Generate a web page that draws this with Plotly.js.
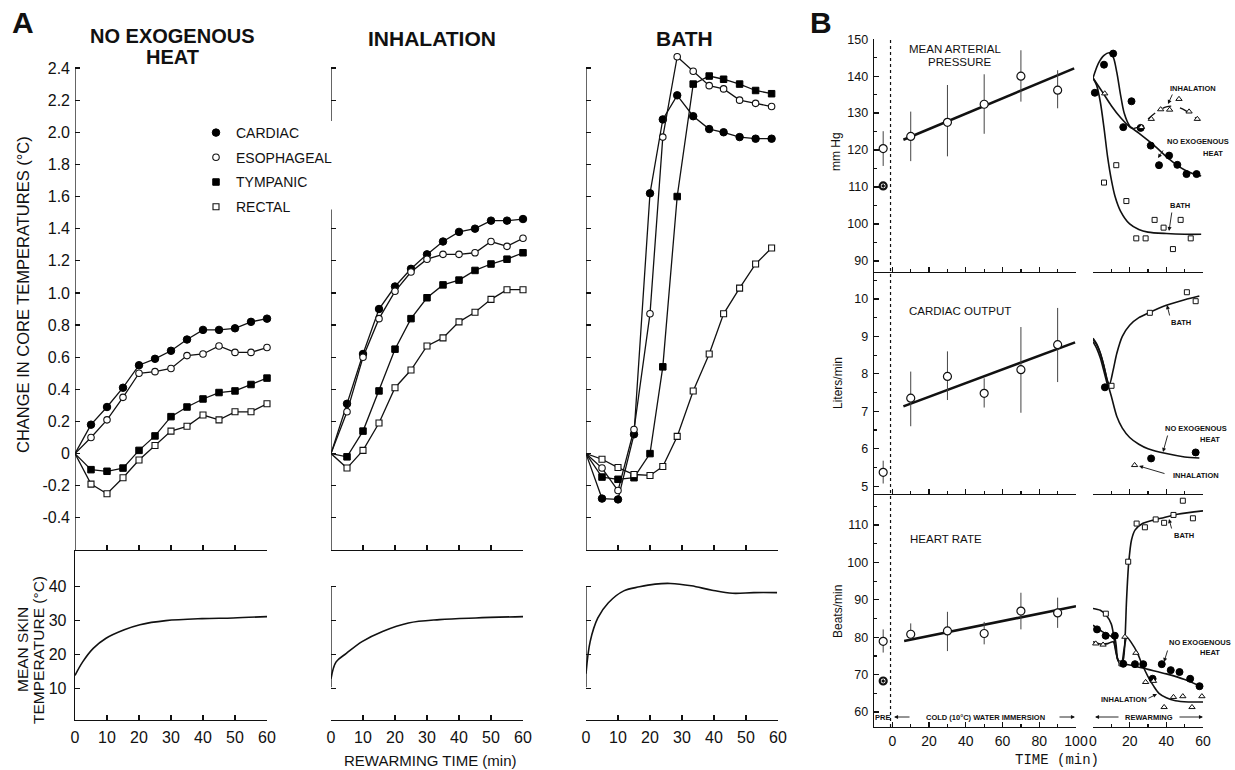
<!DOCTYPE html>
<html><head><meta charset="utf-8">
<script src="https://cdn.plot.ly/plotly-3.0.1.min.js"></script>
<style>html,body{margin:0;padding:0;background:#fff}#chart{width:1235px;height:770px}</style>
</head><body><div id="chart"></div>
<script>
// ---------------- DATA ----------------
// Panel A : change in core temperatures (°C) vs rewarming time (min)
const timeA = [0,5,10,15,20,25,30,35,40,45,50,55,60];
const timeBath = [0,5,10,15,20,24,28.5,33.5,38.5,43,48,53,58];
const noHeatCardiac = [0,0.18,0.29,0.41,0.55,0.59,0.64,0.71,0.77,0.77,0.78,0.82,0.84];
const noHeatEsoph   = [0,0.10,0.21,0.35,0.50,0.51,0.53,0.61,0.62,0.67,0.63,0.63,0.66];
const noHeatTymp    = [0,-0.10,-0.11,-0.09,0.02,0.11,0.23,0.29,0.34,0.38,0.39,0.43,0.47];
const noHeatRectal  = [0,-0.19,-0.25,-0.15,-0.04,0.05,0.14,0.17,0.24,0.21,0.26,0.26,0.31];
const inhalCardiac  = [0,0.31,0.62,0.90,1.04,1.15,1.24,1.32,1.38,1.40,1.45,1.45,1.46];
const inhalEsoph    = [0,0.26,0.60,0.84,1.01,1.13,1.21,1.24,1.24,1.25,1.32,1.29,1.34];
const inhalTymp     = [0,-0.02,0.14,0.39,0.65,0.84,0.97,1.05,1.08,1.14,1.18,1.21,1.25];
const inhalRectal   = [0,-0.09,0.02,0.19,0.41,0.52,0.67,0.72,0.82,0.88,0.96,1.02,1.02];
const bathCardiac   = [0,-0.28,-0.285,0.12,1.62,2.08,2.23,2.10,2.02,2.00,1.97,1.96,1.96];
const bathEsoph     = [0,-0.09,-0.23,0.15,0.87,1.97,2.47,2.38,2.29,2.27,2.20,2.18,2.16];
const bathTymp      = [0,-0.146,-0.16,-0.15,0.0,0.54,1.60,2.30,2.35,2.33,2.30,2.26,2.24];
const bathRectal    = [0,-0.035,-0.087,-0.13,-0.136,-0.08,0.107,0.39,0.62,0.87,1.03,1.18,1.28];
const coreTickVals  = [-0.4,-0.2,0,0.2,0.4,0.6,0.8,1.0,1.2,1.4,1.6,1.8,2.0,2.2,2.4];
const coreTickText  = ['-0.4','-0.2','0','0.2','0.4','0.6','0.8','1.0','1.2','1.4','1.6','1.8','2.0','2.2','2.4'];
const inhalTickVals = [-0.4,-0.2,0,0.2,0.4,0.6,0.8,1.0,1.2,1.4,2.2,2.4];
const seriesNames   = ['CARDIAC','ESOPHAGEAL','TYMPANIC','RECTAL'];
// mean skin temperature (°C)
const skinTimeNoHeat = [0,2.4,5.7,9.7,15.4,20.3,28.4,39.7,49.4,60];
const skinNoHeat     = [13.8,17.8,21.8,24.8,27.3,28.8,30,30.6,30.8,31.2];
const skinTimeInhal  = [0,1.6,4.8,9.7,16.1,24.2,33.9,45.2,60];
const skinInhal      = [12.8,17.8,20.3,23.8,26.8,29.3,30.3,30.8,31.2];
const skinTimeBath   = [0,1.3,3.7,7,11.8,16.7,21.6,26.4,32.9,39.4,45.8,52.4,59.7];
const skinBath       = [14.3,23.8,30.8,35.3,38.8,40,40.8,41,40.3,39,38.1,38.3,38.3];
const skinTickVals   = [10,20,30,40];

// Panel B : cold water immersion (left) and rewarming (right)
const immTime = [10,30,50,70,90];
const preTime = [-5];
const mapImm = [123.7,127.5,132.4,140,136.2];
const mapImmHi = [130.4,137.6,140.5,147,141.6];
const mapImmLo = [117.0,118.3,124.4,133.1,131.3];
const mapPreOpen = [120.4], mapPreOpenHi=[125.1], mapPreOpenLo=[115.7];
const mapPreFilled = [110.3];
const mapFitX = [6,99], mapFitY = [122.8,142.1];
const coImm = [7.35,7.93,7.48,8.11,8.78];
const coImmHi = [8.06,8.6,7.88,9.25,9.76];
const coImmLo = [6.6,7.3,7.1,6.96,7.78];
const coPreOpen = [5.37], coPreOpenHi=[5.68], coPreOpenLo=[5.07];
const coFitX = [6,99.5], coFitY = [7.13,8.84];
const hrImm = [80.8,81.7,81.0,87.0,86.5];
const hrImmHi = [83.7,86.8,84.1,91.9,90.6];
const hrImmLo = [79.6,76.3,78.1,82.1,82.5];
const hrPreOpen = [78.9], hrPreOpenHi=[82.1], hrPreOpenLo=[75.9];
const hrPreFilled = [68.3];
const hrFitX = [6.4,100], hrFitY = [79.0,88.3];

// rewarming – mean arterial pressure
const mapNoHeatPtsX = [1,6,11,16.5,21,26,31.5,36,41.5,46,51,56.5];
const mapNoHeatPtsY = [135.5,143.1,146.1,126.2,133.2,126,121.2,115.9,118.5,116,113.5,113.5];
const mapInhalPtsX = [6.4,26.4,31.8,36.9,41.8,46.9,52.4,56.9];
const mapInhalPtsY = [135.3,126.2,128.4,131,130.9,133.8,130.4,128.4];
const mapBathPtsX = [6,12.7,18.2,23.6,28.7,33.6,38.5,43.6,47.8,53.3];
const mapBathPtsY = [111.2,115.9,106.2,96.1,96.1,101.1,99,93.2,101.1,96.1];
const mapNoHeatCurveX = [0,3,6,9,11,13,15,17,20,25,30,35,40,45,50,55,59];
const mapNoHeatCurveY = [139.5,143.5,145.6,146.3,145.2,141,135,130,126.5,124.6,122.6,120.5,118.2,116.2,114.6,113.5,113];
const mapInhalCurveX = [0,5,10,15,20,22];
const mapInhalCurveY = [139.5,135.8,132,128.8,126.3,125.8];
const mapInhalDashX = [22,26,30,35,40,45,50,55,58];
const mapInhalDashY = [125.8,126.5,128.4,130.4,131.7,131.8,130.8,129,128];
const mapBathCurveX = [0,2,4,6,8,10,12,15,20,25,30,40,50,59];
const mapBathCurveY = [139.5,137.5,133,126,118,112,107.5,103.5,100,98.5,97.8,97.4,97.2,97.2];
// rewarming – cardiac output
const coNoHeatPtsX = [6.5,31.7,56], coNoHeatPtsY = [7.64,5.74,5.9];
const coBathPtsX = [10.1,31,51.2,56], coBathPtsY = [7.68,9.63,10.18,9.94];
const coInhalPtsX = [22.7], coInhalPtsY = [5.56];
const coBathCurveX = [0,2,4,6,8,9,11,13,16,20,25,30,40,50,58];
const coBathCurveY = [8.92,8.78,8.55,8.2,7.8,7.72,8.1,8.55,9.0,9.3,9.5,9.62,9.83,9.98,10.08];
const coNoHeatCurveX = [0,2,4,6,8,10,13,16,20,25,30,40,50,58];
const coNoHeatCurveY = [8.95,8.8,8.55,8.2,7.75,7.4,6.86,6.55,6.3,6.12,6.0,5.87,5.78,5.75];
const coInhalCurveX = [0,2,4,6,8];
const coInhalCurveY = [8.86,8.68,8.42,8.06,7.68];
// rewarming – heart rate
const hrBathPtsX = [7,15.5,19.2,23.8,28.3,34.2,38.8,43.9,49,54.5];
const hrBathPtsY = [86.3,73,100.2,110.4,109.4,111.5,110.6,112.7,116.5,111.8];
const hrNoHeatPtsX = [2.2,6.9,11.9,16.5,22.9,27.4,32.5,37.5,42.4,47.2,53,58.1];
const hrNoHeatPtsY = [82.1,80.4,80.4,72.9,72.8,72.8,68.9,72.8,71.2,70.7,68.9,66.9];
const hrInhalPtsX = [1.5,5.5,17.4,23.4,28.7,33,38.8,43.9,49,54,59.4];
const hrInhalPtsY = [78.3,78,80.1,75.8,68,68.3,61.3,64,64.2,61.3,64.2];
const hrBathCurveX = [0,4,7,10,12,13.5,15,16.5,17.5,18.3,19.5,21,23,27,32,37,46,60];
const hrBathCurveY = [87.7,87.2,86,83.5,78,74,73,74,80,90,100,106,108.7,110.4,111.2,111.8,112.9,113.8];
const hrNoHeatCurveX = [0,5,10,12,13.5,15,17,20,30,40,50,59];
const hrNoHeatCurveY = [83.2,81.5,80.2,79.5,74,73,72.8,72.6,71.4,70.2,68.7,66.8];
const hrInhalCurveX = [0,4,8,11,12.5,14,15.5,17,18.5,21,24,27,30,33,36,40,45,52,60];
const hrInhalCurveY = [78.8,78.2,78.3,78.8,76,73.5,73,77,80,78.5,76,72.5,69.5,67,65,63.8,63,62.7,62.7];

// axis segments (the original axes are drawn only over these spans)
const coreAxisSeg = [-0.6,2.4];
const inhalCoreAxisSegs = [[2.07,2.4],[-0.6,1.52]];
const skinAxisSeg = [10.3,40];
const dottedX = -1;

// ---------------- STYLE / LAYOUT ----------------
const W=1235, H=770;
const fx = p => p/W, fy = p => 1 - p/H;
const INK = '#111';
const SANS = 'Liberation Sans, Arial, sans-serif';

const symStyle = [
  {symbol:'circle', color:'#000', line:{color:'#000',width:1}, size:7.5},
  {symbol:'circle', color:'#fff', line:{color:INK,width:1.1}, size:6.5},
  {symbol:'square', color:'#000', line:{color:'#000',width:1}, size:6.5},
  {symbol:'square', color:'#fff', line:{color:INK,width:1.1}, size:6}
];

const traces = [];
function coreSeries(t, vals, k, xa, ya){
  const s = symStyle[k];
  traces.push({x:t, y:vals, xaxis:xa, yaxis:ya, mode:'lines+markers', showlegend:false, cliponaxis:false,
    line:{color:INK,width:1.3},
    marker:{symbol:s.symbol, color:s.color, line:s.line, opacity:1, size:t.map((v,i)=> i===0 ? 0 : s.size)}});
}
[[noHeatCardiac,noHeatEsoph,noHeatTymp,noHeatRectal,'x','y',timeA],
 [inhalCardiac,inhalEsoph,inhalTymp,inhalRectal,'x3','y3',timeA],
 [bathCardiac,bathEsoph,bathTymp,bathRectal,'x5','y5',timeBath]].forEach(g=>{
  for(let k=0;k<4;k++) coreSeries(g[6], g[k], k, g[4], g[5]);
});
// legend entries (markers only)
seriesNames.forEach((n,k)=>{
  const s = symStyle[k];
  traces.push({x:[null], y:[null], xaxis:'x', yaxis:'y', mode:'markers', name:n, legendgroup:'g'+k, showlegend:true,
    marker:{symbol:s.symbol, color:s.color, line:s.line, size:s.size, opacity:1}});
});
// skin temperature curves
[[skinTimeNoHeat,skinNoHeat,'x2','y2'],[skinTimeInhal,skinInhal,'x4','y4'],[skinTimeBath,skinBath,'x6','y6']].forEach(g=>{
  traces.push({x:g[0], y:g[1], xaxis:g[2], yaxis:g[3], mode:'lines', showlegend:false,
    line:{color:INK,width:1.6,shape:'spline',smoothing:1}});
});

// Panel B left: immersion means with error bars
function errTrace(x,y,hi,lo,xa,ya,filled){
  traces.push({x:x, y:y, xaxis:xa, yaxis:ya, mode:'markers', showlegend:false, cliponaxis:false,
    error_y:{type:'data', symmetric:false, array:hi.map((v,i)=>v-y[i]), arrayminus:lo.map((v,i)=>y[i]-v),
      width:0, thickness:1, color:'#444'},
    marker:{symbol:'circle', size:8, opacity:1, color:filled?INK:'#fff', line:{color:INK,width:1.2}}});
}
function fitLine(x,y,xa,ya){
  traces.push({x:x,y:y,xaxis:xa,yaxis:ya,mode:'lines',showlegend:false,line:{color:INK,width:2.6}});
}
fitLine(mapFitX,mapFitY,'x7','y7');
errTrace(immTime,mapImm,mapImmHi,mapImmLo,'x7','y7');
errTrace(preTime,mapPreOpen,mapPreOpenHi,mapPreOpenLo,'x7','y7');
traces.push({x:preTime,y:mapPreFilled,xaxis:'x7',yaxis:'y7',mode:'markers',showlegend:false,
  marker:{symbol:'circle-dot',size:7,color:'#fff',line:{color:INK,width:2.2}}});
fitLine(coFitX,coFitY,'x9','y9');
errTrace(immTime,coImm,coImmHi,coImmLo,'x9','y9');
errTrace(preTime,coPreOpen,coPreOpenHi,coPreOpenLo,'x9','y9');
fitLine(hrFitX,hrFitY,'x11','y11');
errTrace(immTime,hrImm,hrImmHi,hrImmLo,'x11','y11');
errTrace(preTime,hrPreOpen,hrPreOpenHi,hrPreOpenLo,'x11','y11');
traces.push({x:preTime,y:hrPreFilled,xaxis:'x11',yaxis:'y11',mode:'markers',showlegend:false,
  marker:{symbol:'circle-dot',size:7,color:'#fff',line:{color:INK,width:2.2}}});

// Panel B right: rewarming curves and points
function curve(x,y,xa,ya,dash,w){
  traces.push({x:x,y:y,xaxis:xa,yaxis:ya,mode:'lines',showlegend:false,cliponaxis:false,
    line:{color:INK,width:w||1.6,shape:'spline',smoothing:0.8,dash:dash||'solid'}});
}
function pts(x,y,xa,ya,kind){
  const m = kind==='neh' ? {symbol:'circle',size:7,color:'#000',line:{color:'#000',width:1}}
          : kind==='bath' ? {symbol:'square',size:5,color:'#fff',line:{color:INK,width:1}}
          : {symbol:'triangle-up',size:5.5,color:'#fff',line:{color:INK,width:1}};
  m.opacity = 1;
  traces.push({x:x,y:y,xaxis:xa,yaxis:ya,mode:'markers',showlegend:false,cliponaxis:false,marker:m});
}
curve(mapNoHeatCurveX,mapNoHeatCurveY,'x8','y8');
curve(mapInhalCurveX,mapInhalCurveY,'x8','y8');
curve(mapInhalDashX,mapInhalDashY,'x8','y8','dash',1.3);
curve(mapBathCurveX,mapBathCurveY,'x8','y8');
pts(mapNoHeatPtsX,mapNoHeatPtsY,'x8','y8','neh');
pts(mapInhalPtsX,mapInhalPtsY,'x8','y8','inh');
pts(mapBathPtsX,mapBathPtsY,'x8','y8','bath');

curve(coBathCurveX,coBathCurveY,'x10','y10');
curve(coNoHeatCurveX,coNoHeatCurveY,'x10','y10');
curve(coInhalCurveX,coInhalCurveY,'x10','y10');
pts(coNoHeatPtsX,coNoHeatPtsY,'x10','y10','neh');
pts(coBathPtsX,coBathPtsY,'x10','y10','bath');
pts(coInhalPtsX,coInhalPtsY,'x10','y10','inh');

curve(hrBathCurveX,hrBathCurveY,'x12','y12');
curve(hrNoHeatCurveX,hrNoHeatCurveY,'x12','y12');
curve(hrInhalCurveX,hrInhalCurveY,'x12','y12');
pts(hrBathPtsX,hrBathPtsY,'x12','y12','bath');
pts(hrNoHeatPtsX,hrNoHeatPtsY,'x12','y12','neh');
pts(hrInhalPtsX,hrInhalPtsY,'x12','y12','inh');

// ---------- axes ----------
const base = {showgrid:false, zeroline:false, linecolor:INK, linewidth:1.3, tickcolor:INK, tickwidth:1.2,
  ticks:'inside', fixedrange:true, tickfont:{family:SANS,size:16,color:INK}};
function ax(o){ return Object.assign({}, base, o); }
const layout = {width:W, height:H, margin:{l:0,r:0,t:0,b:0}, paper_bgcolor:'#fff', plot_bgcolor:'rgba(0,0,0,0)',
  hovermode:false, showlegend:true,
  legend:{x:fx(196), y:fy(117), xanchor:'left', yanchor:'top', bgcolor:'rgba(0,0,0,0)', tracegroupgap:3.5,
    font:{family:SANS,size:14,color:INK}, itemwidth:30},
  shapes:[], annotations:[]};

const colsA = [[75,267],[331,523],[586,778]];
// core temp panel: -0.6 at y=550, 2.4 at y=68 ; range extended to 2.5 so the bath peak is not cut
const pxPerUnitA = (550-68)/3;
const topA = [68 - 0.1*pxPerUnitA, 550], botA = [550,720];
[['xaxis','yaxis','y','x'],['xaxis3','yaxis3','y3','x3'],['xaxis5','yaxis5','y5','x5']].forEach((n,i)=>{
  layout[n[0]] = ax({domain:[fx(colsA[i][0]),fx(colsA[i][1])], range:[0,60], anchor:n[2], dtick:10, tick0:0,
    ticklen:5, showline:true, showticklabels:false});
  layout[n[1]] = ax({domain:[fy(topA[1]),fy(topA[0])], range:[-0.6,2.5], anchor:n[3], ticklen:5,
    tickvals: i===1 ? inhalTickVals : coreTickVals, ticktext: coreTickText,
    showline:false, showticklabels: i===0, ticklabelstandoff:4});
});
[['x','y'],['x5','y5']].forEach(p=>layout.shapes.push({type:'line',xref:p[0],yref:p[1],x0:0,x1:0,y0:coreAxisSeg[0],y1:coreAxisSeg[1],line:{color:INK,width:1.3}}));
inhalCoreAxisSegs.forEach(s=>layout.shapes.push({type:'line',xref:'x3',yref:'y3',x0:0,x1:0,y0:s[0],y1:s[1],line:{color:INK,width:1.3}}));
// bottom row skin temp
[['xaxis2','yaxis2','y2','x2'],['xaxis4','yaxis4','y4','x4'],['xaxis6','yaxis6','y6','x6']].forEach((n,i)=>{
  layout[n[0]] = ax({domain:[fx(colsA[i][0]),fx(colsA[i][1])], range:[0,60], anchor:n[2], dtick:10, tick0:0,
    ticklen:5, showline:true, showticklabels:true, tickfont:{family:SANS,size:16,color:INK}, ticklabelstandoff:2});
  layout[n[1]] = ax({domain:[fy(botA[1]),fy(botA[0])], range:[0.6,50.9], anchor:n[3], ticklen:5,
    tickvals:skinTickVals, showline:i===0, showticklabels:i===0, ticklabelstandoff:4});
});
['x4','x6'].forEach((xa,i)=>layout.shapes.push({type:'line',xref:xa,yref:'y'+(i===0?4:6),x0:0,x1:0,y0:skinAxisSeg[0],y1:skinAxisSeg[1],line:{color:INK,width:1.3}}));

// Panel B
const leftB=[874,1076], rightB=[1093,1203];
const rowsB=[[39,272],[272,494],[494,727]];
const rangesB=[[87,150.05],[4.79,10.72],[56,118.3]];
const dtB=[10,1,10], minorB=[5,0.5,5];
const bTick = {family:SANS,size:12.5,color:INK};
[[7,8],[9,10],[11,12]].forEach((p,r)=>{
  const last = r===2;
  layout['xaxis'+p[0]] = ax({domain:[fx(leftB[0]),fx(leftB[1])], range:[-10,100], anchor:'y'+p[0], tick0:0, dtick:20, ticklen:5,
    minor:{dtick:10,tick0:0,ticks:'inside',ticklen:3,tickcolor:INK}, showline:true, showticklabels:last, tickfont:{family:SANS,size:14,color:INK}, ticklabelstandoff:1});
  layout['yaxis'+p[0]] = ax({domain:[fy(rowsB[r][1]),fy(rowsB[r][0])], range:rangesB[r], anchor:'x'+p[0], tick0:0, dtick:dtB[r], ticklen:5,
    minor:{dtick:minorB[r],tick0:0,ticks:'inside',ticklen:3,tickcolor:INK}, showline:true, tickfont:bTick, ticklabelstandoff:2});
  layout['xaxis'+p[1]] = ax({domain:[fx(rightB[0]),fx(rightB[1])], range:[0,60], anchor:'y'+p[1], tick0:0, dtick:20, ticklen:5,
    minor:{dtick:10,tick0:0,ticks:'inside',ticklen:3,tickcolor:INK}, showline:true, showticklabels:last, tickfont:{family:SANS,size:14,color:INK}, ticklabelstandoff:1});
  layout['yaxis'+p[1]] = ax({domain:[fy(rowsB[r][1]),fy(rowsB[r][0])], range:rangesB[r], anchor:'x'+p[1], visible:false});
});
layout.shapes.push({type:'line',xref:'x7',yref:'paper',x0:dottedX,x1:dottedX,y0:fy(727),y1:fy(37),line:{color:INK,width:1.2,dash:'dot'}});

// ---------- text ----------
function txt(x,y,t,size,o){
  layout.annotations.push(Object.assign({xref:'paper',yref:'paper',x:fx(x),y:fy(y),text:t,showarrow:false,
    xanchor:'center',yanchor:'middle',font:{family:SANS,size:size,color:INK}},o||{}));
}
function arrow(tx,ty,hx,hy){
  layout.annotations.push({xref:'paper',yref:'paper',x:fx(hx),y:fy(hy),ax:tx-hx,ay:ty-hy,text:'',showarrow:true,
    arrowhead:2,arrowsize:0.9,arrowwidth:0.9,arrowcolor:INK,standoff:0,startstandoff:0});
}
const bold = (s)=>'<b>'+s+'</b>';
txt(23,23,bold('A'),30);
txt(821,23,bold('B'),30);
txt(172,36,bold('NO EXOGENOUS'),20);
txt(172,57,bold('HEAT'),20);
txt(432,38,bold('INHALATION'),21);
txt(684,38,bold('BATH'),21);
txt(23,295,'CHANGE IN CORE TEMPERATURES (°C)',16.5,{textangle:-90});
txt(22,650,'MEAN SKIN',15.5,{textangle:-90});
txt(38,650,'TEMPERATURE (°C)',15.5,{textangle:-90});
txt(430,760,'REWARMING TIME (min)',15);

txt(955,49,'MEAN ARTERIAL',11.5);
txt(960,62,'PRESSURE',11.5);
txt(960,311,'CARDIAC OUTPUT',11.5);
txt(946,539,'HEART RATE',11.5);
txt(836,152,'mm Hg',12,{textangle:-90});
txt(838,383,'Liters/min',12,{textangle:-90});
txt(838,612,'Beats/min',12,{textangle:-90});
txt(1057,760,'TIME (min)',14,{font:{family:'Liberation Mono, Courier New, monospace',size:14,color:INK}});

const small = 7.5;
// MAP labels
txt(1193,88,bold('INHALATION'),small);
arrow(1173,93,1168,104);
txt(1198,142,bold('NO EXOGENOUS'),small);
txt(1213,154,bold('HEAT'),small);
arrow(1164,149,1158,158);
txt(1180,206,bold('BATH'),small);
arrow(1172,211,1169,231);
// CO labels
txt(1181,322,bold('BATH'),small);
arrow(1170,317,1167,305);
txt(1196,428,bold('NO EXOGENOUS'),small);
txt(1210,439,bold('HEAT'),small);
arrow(1168,434,1163,452);
txt(1196,475,bold('INHALATION'),small);
arrow(1166,474,1139,466);
// HR labels
txt(1184,535,bold('BATH'),small);
arrow(1172,530,1169,519);
txt(1200,642,bold('NO EXOGENOUS'),small);
txt(1210,652,bold('HEAT'),small);
arrow(1168,649,1164,662);
txt(1124,699,bold('INHALATION'),small);
arrow(1147,699,1157,694);
// bottom phase labels
txt(882,717,bold('PRE'),small);
txt(985,717,bold('COLD (10°C) WATER IMMERSION'),small);
arrow(911,717,894,717);
arrow(1058,717,1075,717);
txt(1149,717,bold('REWARMING'),small);
arrow(1120,717,1095,717);
arrow(1178,717,1203,717);

Plotly.newPlot('chart', traces, layout, {staticPlot:true, displayModeBar:false});
</script></body></html>
